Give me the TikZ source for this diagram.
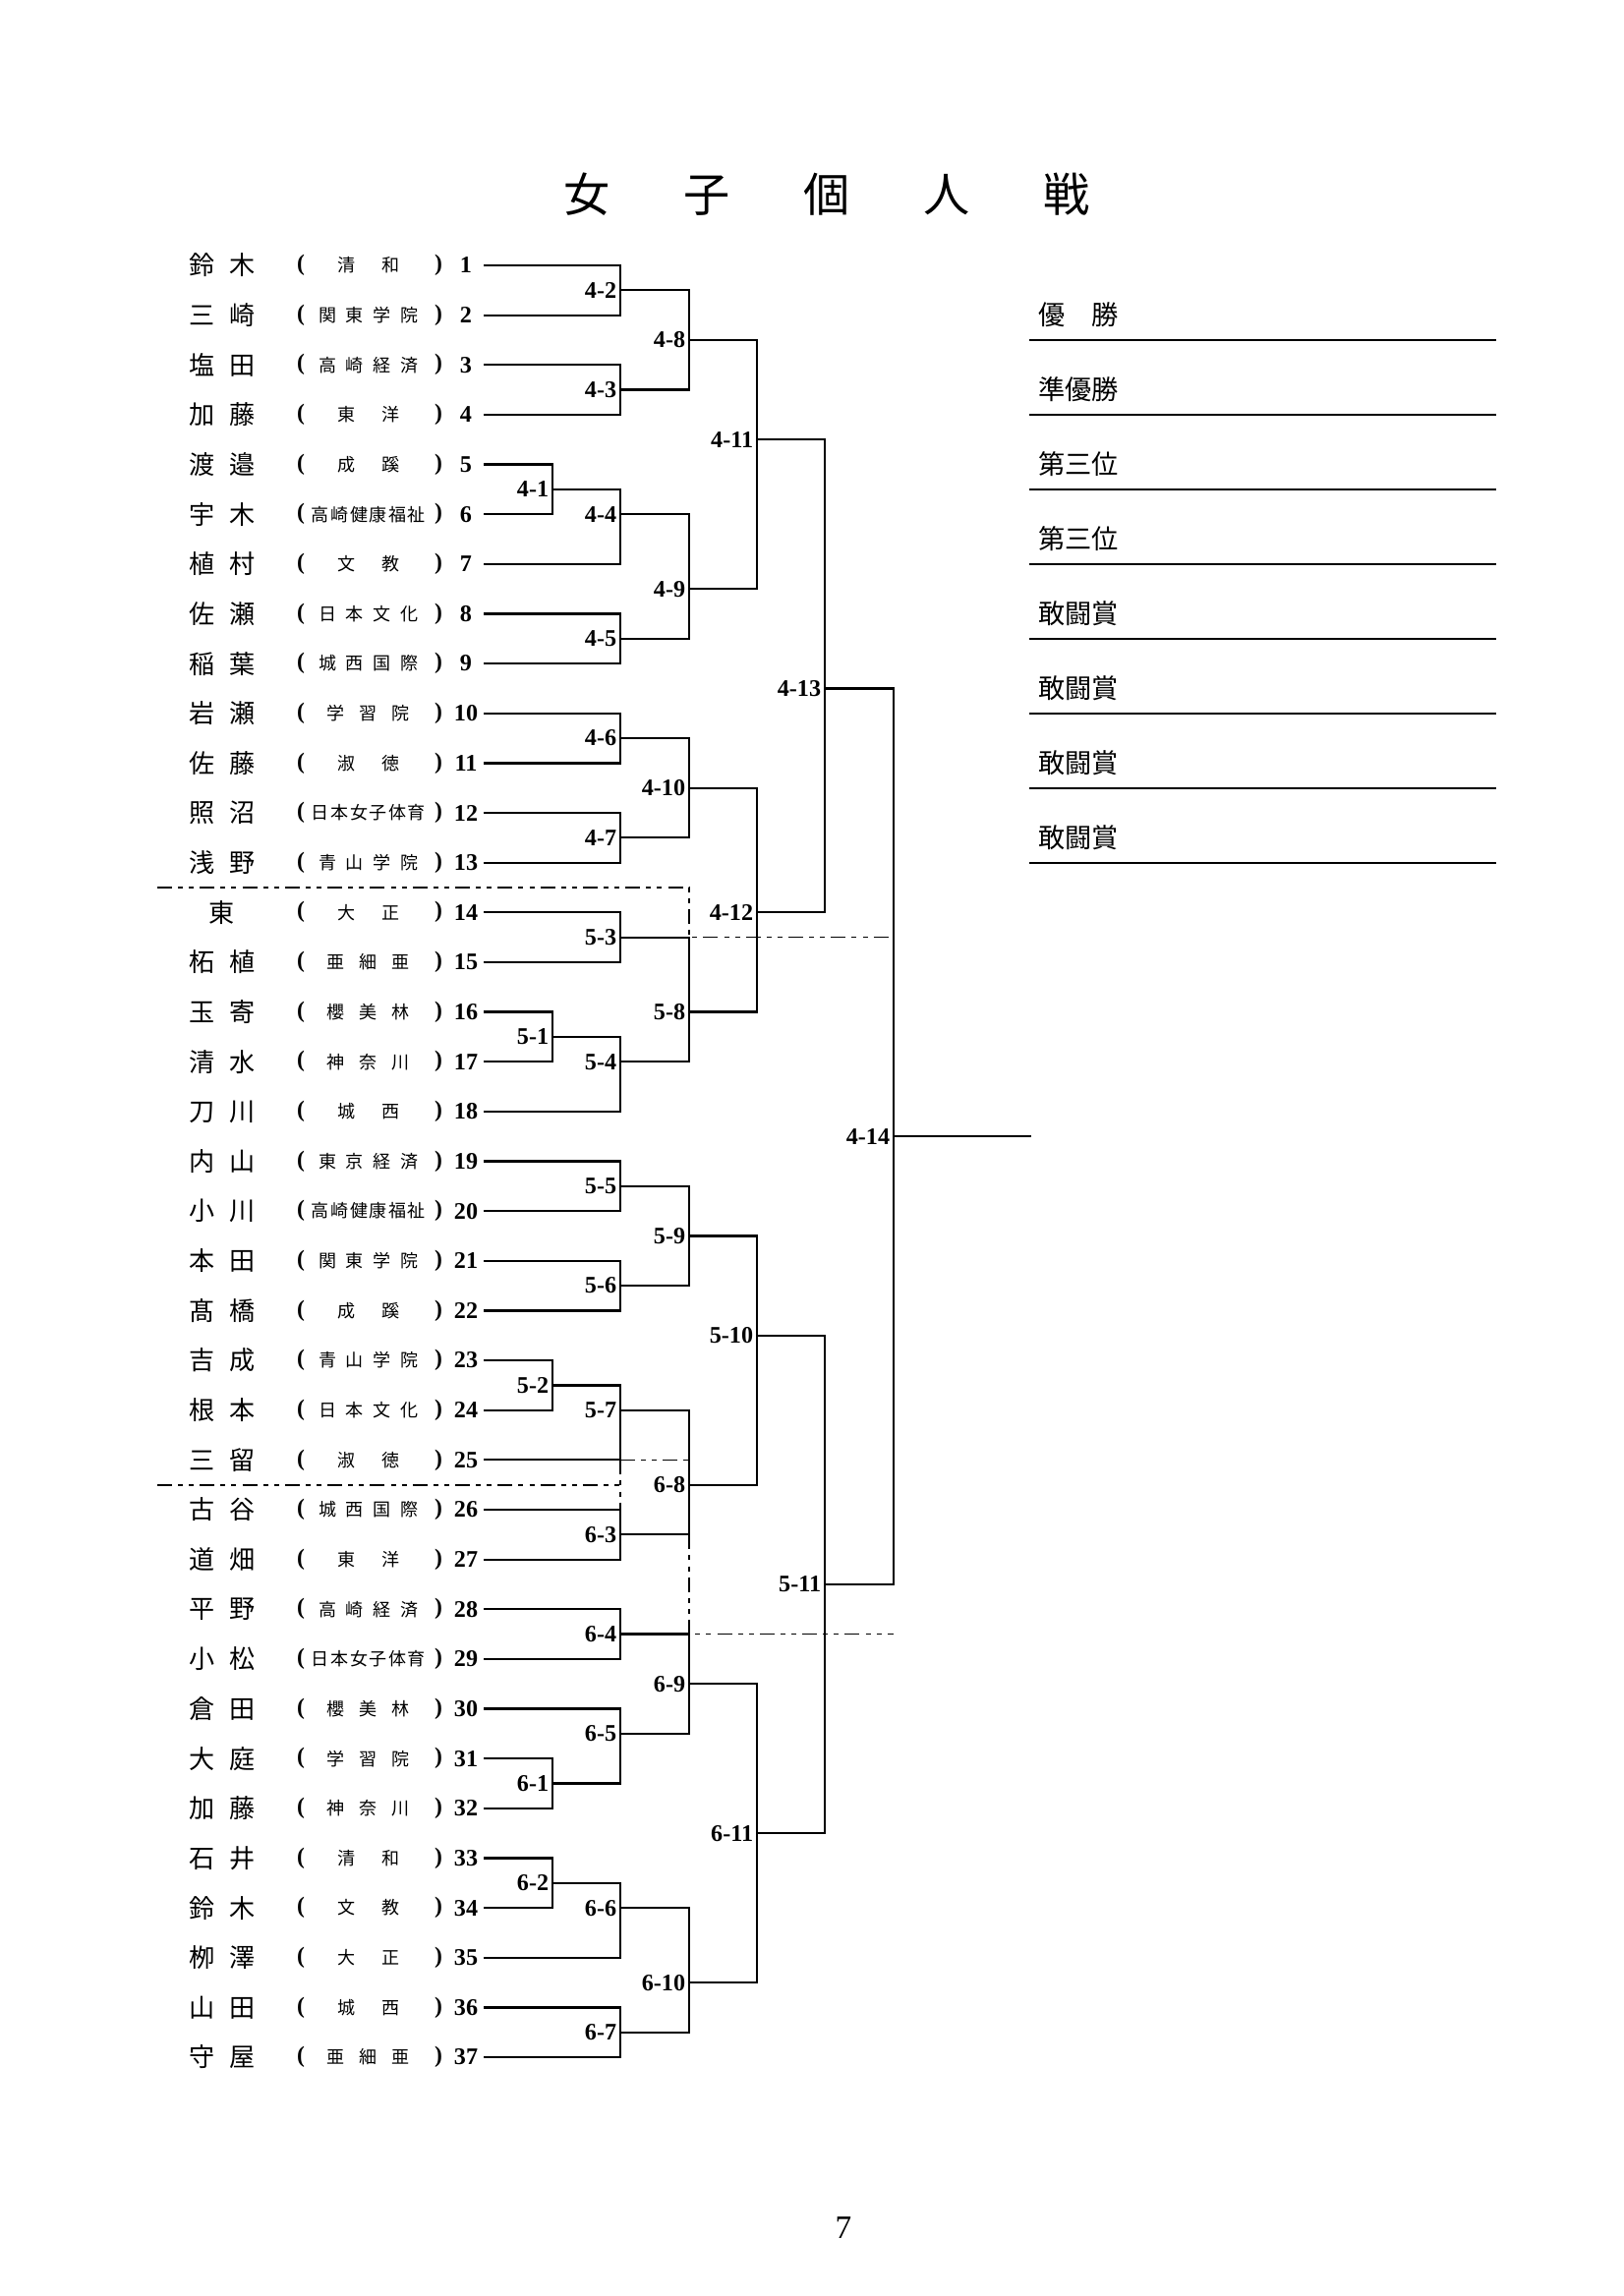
\documentclass[tikz,border=0pt]{standalone}
\usepackage{fontspec}
\setmainfont{Liberation Serif}
\newfontfamily\cjk{Noto Sans CJK JP}
\makeatletter
\def\spr#1{\spr@a#1\relax}
\def\spr@a#1{#1\futurelet\spr@n\spr@b}
\def\spr@b{\ifx\spr@n\relax\expandafter\@gobble\else\hfill\expandafter\spr@a\fi}
\makeatother
\tikzset{
  nm/.style={font=\cjk\fontsize{9.4}{9.4}\selectfont, inner sep=0pt},
  sc/.style={font=\cjk\fontsize{6.5}{6.5}\selectfont, inner sep=0pt},
  pl/.style={font=\bfseries\fontsize{8.5}{8.5}\selectfont, inner sep=0pt},
  nb/.style={font=\bfseries\fontsize{8.7}{8.7}\selectfont, inner sep=0pt},
  lb/.style={font=\bfseries\fontsize{8.7}{8.7}\selectfont, inner sep=0pt, anchor=east, xshift=-1.2pt},
  br/.style={line width=0.8pt},
  dd/.style={line width=0.6pt, dash pattern=on 5.4pt off 2.2pt on 1.8pt off 2.2pt on 1.8pt off 2.2pt},
  ttl/.style={font=\cjk\fontsize{17}{17}\selectfont, inner sep=0pt},
  pz/.style={font=\cjk\fontsize{9.8}{9.8}\selectfont, inner sep=0pt, anchor=west},
  pg/.style={font=\fontsize{12}{12}\selectfont, inner sep=0pt}
}
\newcommand\entrantrow[4]{%
  \node[nm] (n#1) at (226,#1) {\makebox[24.5pt]{\spr{#2}}};
  \node[pl] (a#1) at (306,#1) {(};
  \node[sc] (s#1) at (375,#1) {\makebox[#4pt]{\spr{#3}}};
  \node[pl] (b#1) at (446,#1) {)};
  \node[nb] (k#1) at (474,#1) {#1};
  \coordinate (p#1) at (492,#1);
}
\newcommand\bout[6]{%
  \coordinate (m#1) at (#3,#4);
  \draw[br] (#5) -| (m#1) |- (#6);
  \node[lb] (l#1) at (m#1) {#2};
}
\newcommand\prize[3]{%
  \node[pz] (w#1) at (1056,#3) {#2};
  \coordinate (ua#1) at (1047,#3+0.5);
  \coordinate (ub#1) at (1522,#3+0.5);
  \draw[br] (ua#1) -- (ub#1);
}
\begin{document}
\begin{tikzpicture}[x=0.36034pt, y=-18.2476pt]
\useasboundingbox[fill=white] (0,-4.3318) rectangle (1652,41.798);
\node[ttl] (title) at (841,-0.4218) {\makebox[192.8pt]{\spr{女子個人戦}}};
% entrants
\entrantrow{1}{鈴木}{清和}{23.06}
\entrantrow{2}{三崎}{関東学院}{36.75}
\entrantrow{3}{塩田}{高崎経済}{36.75}
\entrantrow{4}{加藤}{東洋}{23.06}
\entrantrow{5}{渡邉}{成蹊}{23.06}
\entrantrow{6}{宇木}{高崎健康福祉}{41.8}
\entrantrow{7}{植村}{文教}{23.06}
\entrantrow{8}{佐瀬}{日本文化}{36.75}
\entrantrow{9}{稲葉}{城西国際}{36.75}
\entrantrow{10}{岩瀬}{学習院}{30.27}
\entrantrow{11}{佐藤}{淑徳}{23.06}
\entrantrow{12}{照沼}{日本女子体育}{41.8}
\entrantrow{13}{浅野}{青山学院}{36.75}
\entrantrow{14}{\hfill 東\hfill}{大正}{23.06}
\entrantrow{15}{柘植}{亜細亜}{30.27}
\entrantrow{16}{玉寄}{櫻美林}{30.27}
\entrantrow{17}{清水}{神奈川}{30.27}
\entrantrow{18}{刀川}{城西}{23.06}
\entrantrow{19}{内山}{東京経済}{36.75}
\entrantrow{20}{小川}{高崎健康福祉}{41.8}
\entrantrow{21}{本田}{関東学院}{36.75}
\entrantrow{22}{髙橋}{成蹊}{23.06}
\entrantrow{23}{吉成}{青山学院}{36.75}
\entrantrow{24}{根本}{日本文化}{36.75}
\entrantrow{25}{三留}{淑徳}{23.06}
\entrantrow{26}{古谷}{城西国際}{36.75}
\entrantrow{27}{道畑}{東洋}{23.06}
\entrantrow{28}{平野}{高崎経済}{36.75}
\entrantrow{29}{小松}{日本女子体育}{41.8}
\entrantrow{30}{倉田}{櫻美林}{30.27}
\entrantrow{31}{大庭}{学習院}{30.27}
\entrantrow{32}{加藤}{神奈川}{30.27}
\entrantrow{33}{石井}{清和}{23.06}
\entrantrow{34}{鈴木}{文教}{23.06}
\entrantrow{35}{栁澤}{大正}{23.06}
\entrantrow{36}{山田}{城西}{23.06}
\entrantrow{37}{守屋}{亜細亜}{30.27}
% round 1
\bout{41}{4-1}{562}{5.5}{p5}{p6}
\bout{51}{5-1}{562}{16.5}{p16}{p17}
\bout{52}{5-2}{562}{23.5}{p23}{p24}
\bout{61}{6-1}{562}{31.5}{p31}{p32}
\bout{62}{6-2}{562}{33.5}{p33}{p34}
% round 2
\bout{42}{4-2}{631}{1.5}{p1}{p2}
\bout{43}{4-3}{631}{3.5}{p3}{p4}
\bout{44}{4-4}{631}{6}{m41}{p7}
\bout{45}{4-5}{631}{8.5}{p8}{p9}
\bout{46}{4-6}{631}{10.5}{p10}{p11}
\bout{47}{4-7}{631}{12.5}{p12}{p13}
\bout{53}{5-3}{631}{14.5}{p14}{p15}
\bout{54}{5-4}{631}{17}{m51}{p18}
\bout{55}{5-5}{631}{19.5}{p19}{p20}
\bout{56}{5-6}{631}{21.5}{p21}{p22}
\bout{57}{5-7}{631}{24}{m52}{p25}
\bout{63}{6-3}{631}{26.5}{p26}{p27}
\bout{64}{6-4}{631}{28.5}{p28}{p29}
\bout{65}{6-5}{631}{30.5}{p30}{m61}
\bout{66}{6-6}{631}{34}{m62}{p35}
\bout{67}{6-7}{631}{36.5}{p36}{p37}
% round 3
\bout{48}{4-8}{701}{2.5}{m42}{m43}
\bout{49}{4-9}{701}{7.5}{m44}{m45}
\bout{410}{4-10}{701}{11.5}{m46}{m47}
\bout{58}{5-8}{701}{16}{m53}{m54}
\bout{59}{5-9}{701}{20.5}{m55}{m56}
\bout{68}{6-8}{701}{25.5}{m57}{m63}
\bout{69}{6-9}{701}{29.5}{m64}{m65}
\bout{610}{6-10}{701}{35.5}{m66}{m67}
% round 4
\bout{411}{4-11}{770}{4.5}{m48}{m49}
\bout{412}{4-12}{770}{14}{m410}{m58}
\bout{510}{5-10}{770}{22.5}{m59}{m68}
\bout{611}{6-11}{770}{32.5}{m69}{m610}
% round 5
\bout{413}{4-13}{839}{9.5}{m411}{m412}
\bout{511}{5-11}{839}{27.5}{m510}{m611}
% final
\bout{414}{4-14}{909}{18.5}{m413}{m511}
\coordinate (fin) at (1049,18.5);
\draw[br] (m414) -- (fin);
% dividers
\coordinate (d1a) at (160,13.5);
\coordinate (d1b) at (701,13.5);
\coordinate (d1c) at (701,14.5);
\coordinate (d1d) at (909,14.5);
\draw[dd] (d1a) -- (d1b) -- (d1c) -- (d1d);
\coordinate (d2a) at (160,25.5);
\coordinate (d2b) at (631,25.5);
\coordinate (d2c) at (631,25);
\coordinate (d2d) at (631,26);
\coordinate (d2e) at (701,25);
\coordinate (d2f) at (701,26.5);
\coordinate (d2g) at (701,28.5);
\coordinate (d2h) at (909,28.5);
\draw[dd] (d2a) -- (d2b);
\draw[dd] (d2c) -- (d2d);
\draw[dd] (d2c) -- (d2e);
\draw[dd] (d2f) -- (d2g) -- (d2h);
% prizes
\prize{1}{優　勝}{2}
\prize{2}{準優勝}{3.5}
\prize{3}{第三位}{5}
\prize{4}{第三位}{6.5}
\prize{5}{敢闘賞}{8}
\prize{6}{敢闘賞}{9.5}
\prize{7}{敢闘賞}{11}
\prize{8}{敢闘賞}{12.5}
% page number
\node[pg] (page) at (858,40.435) {7};
\end{tikzpicture}
\end{document}
